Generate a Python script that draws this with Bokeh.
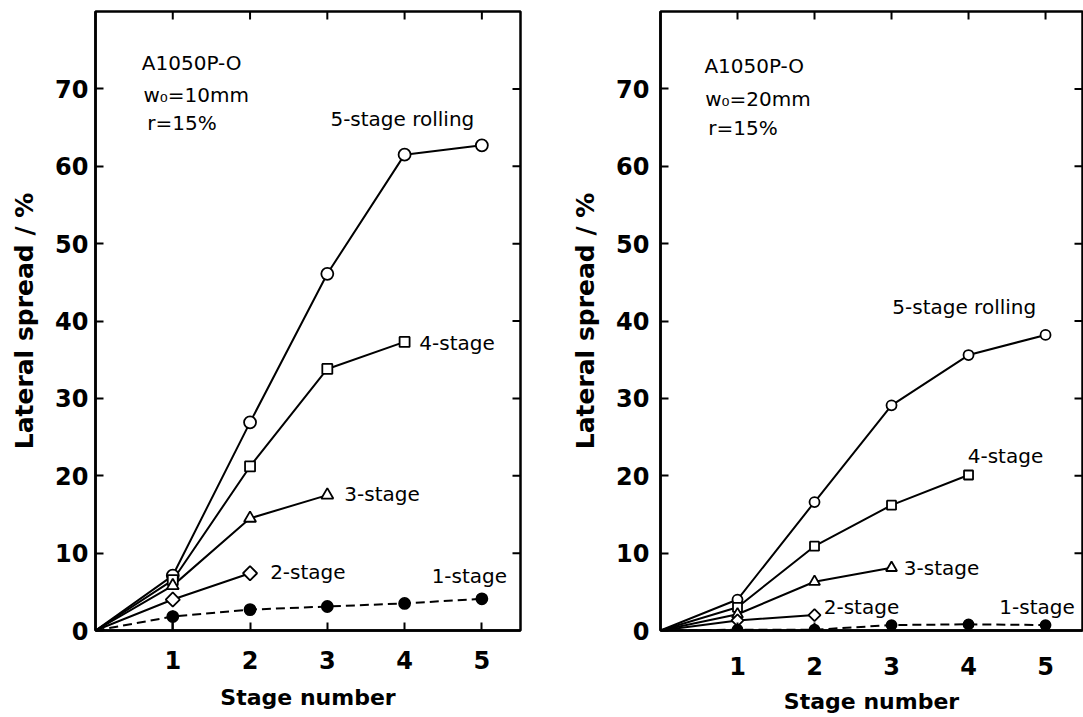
import math
from bokeh.plotting import figure
from bokeh.layouts import row
from bokeh.models import FixedTicker, Range1d
from bokeh.core.properties import value
from bokeh.embed import file_html
from bokeh.resources import INLINE

# ---------------- data ----------------
stages = [0, 1, 2, 3, 4, 5]
x_ticks = [1, 2, 3, 4, 5]
y_ticks = [0, 10, 20, 30, 40, 50, 60, 70]
y_max = 80

# w0 = 10 mm (left panel)
w10_5stage = [0, 7.1, 26.9, 46.1, 61.5, 62.7]
w10_4stage = [0, 6.5, 21.2, 33.8, 37.3]
w10_3stage = [0, 5.8, 14.5, 17.5]
w10_2stage = [0, 4.0, 7.4]
w10_1stage = [0, 1.8, 2.7, 3.1, 3.5, 4.1]
w10_err_x = [1]
w10_err_lo = [0.0]
w10_err_hi = [2.6]

# w0 = 20 mm (right panel)
w20_5stage = [0, 4.0, 16.6, 29.1, 35.6, 38.2]
w20_4stage = [0, 3.0, 10.9, 16.2, 20.1]
w20_3stage = [0, 2.1, 6.3, 8.1]
w20_2stage = [0, 1.3, 2.0]
w20_1stage = [0, 0.1, 0.1, 0.7, 0.8, 0.7]

curve_labels = ["5-stage rolling", "4-stage", "3-stage", "2-stage", "1-stage"]
notes_10 = ["A1050P-O", "w\u2080=10mm", "r=15%"]
notes_20 = ["A1050P-O", "w\u2080=20mm", "r=15%"]
x_title = "Stage number"
y_title = "Lateral spread / %"

# ---------------- layout (positions of annotations) ----------------
lab_x_10 = [3.04, 4.19, 3.22, 2.26, 4.35]
lab_y_10 = [66.1, 37.2, 17.6, 7.6, 7.0]
note_x_10 = [0.6, 0.62, 0.67]
note_y_10 = [73.3, 69.2, 65.6]

lab_x_20 = [3.01, 3.99, 3.16, 2.12, 4.40]
lab_y_20 = [41.8, 22.5, 8.1, 3.0, 3.0]
note_x_20 = [0.57, 0.58, 0.62]
note_y_20 = [72.9, 68.7, 64.9]

FONT = "DejaVu Sans"


def make_panel(width, x_end, mb_left, mb_right, mb_top, mb_bottom,
               series, msizes, notes, note_x, note_y, lab_x, lab_y,
               y_standoff, y_label_standoff, x_standoff, x_label_standoff):
    p = figure(width=width, height=717, x_range=Range1d(0, x_end),
               y_range=Range1d(0, y_max), output_backend="svg",
               toolbar_location=None, tools="",
               min_border_left=mb_left, min_border_right=mb_right,
               min_border_top=mb_top, min_border_bottom=mb_bottom)
    p.background_fill_color = "white"
    p.border_fill_color = "white"
    p.grid.visible = False
    p.outline_line_color = "black"
    p.outline_line_width = 2.5

    for ax in (p.xaxis[0], p.yaxis[0]):
        ax.axis_line_width = 2.5
        ax.axis_line_color = "black"
        ax.major_tick_in = 8
        ax.major_tick_out = 0
        ax.major_tick_line_width = 2
        ax.minor_tick_in = 0
        ax.minor_tick_out = 0
        ax.major_label_text_font = FONT
        ax.major_label_text_font_style = "bold"
        ax.major_label_text_font_size = "24px"
        ax.major_label_text_color = "black"
        ax.axis_label_text_font = FONT
        ax.axis_label_text_font_style = "bold"
        ax.axis_label_text_color = "black"
    p.xaxis[0].axis_label_text_font_size = "22px"
    p.yaxis[0].axis_label_text_font_size = "25px"
    p.xaxis[0].ticker = FixedTicker(ticks=x_ticks)
    p.yaxis[0].ticker = FixedTicker(ticks=y_ticks)
    p.xaxis[0].axis_label = x_title
    p.yaxis[0].axis_label = y_title
    p.xaxis[0].major_label_standoff = x_standoff
    p.xaxis[0].axis_label_standoff = x_label_standoff
    p.yaxis[0].major_label_standoff = y_standoff
    p.yaxis[0].axis_label_standoff = y_label_standoff

    # inward ticks on the top and right frame edges (clipped to the frame)
    p.scatter(x=x_ticks, y=[y_max] * len(x_ticks), marker="dash",
              angle=math.pi / 2, size=16, line_color="black", line_width=2)
    p.scatter(x=[x_end] * (len(y_ticks) - 1), y=y_ticks[1:], marker="dash",
              size=16, line_color="black", line_width=2)

    # lines first
    for (vals, marker, filled, dashed, ang) in series:
        n = len(vals)
        p.line(stages[:n], vals, line_color="black", line_width=2,
               line_dash="9 5" if dashed else "solid")
    # markers on top
    for (vals, marker, filled, dashed, ang), sz in zip(series, msizes):
        n = len(vals)
        p.scatter(stages[1:n], vals[1:], marker=marker, size=sz, angle=ang,
                  fill_color="black" if filled else "white",
                  line_color="black", line_width=1.8)

    p.text(x=lab_x, y=lab_y, text=curve_labels, text_font=value(FONT),
           text_font_size="20px", text_baseline="middle", text_align="left",
           text_color="black")
    p.text(x=note_x, y=note_y, text=notes, text_font=value(FONT),
           text_font_size="20px", text_baseline="middle", text_align="left",
           text_color="black")
    return p


Q = math.pi / 4
series_10 = [(w10_5stage, "circle", False, False, 0),
             (w10_4stage, "square", False, False, 0),
             (w10_3stage, "triangle", False, False, 0),
             (w10_2stage, "square", False, False, Q),
             (w10_1stage, "circle", True, True, 0)]
series_20 = [(w20_5stage, "circle", False, False, 0),
             (w20_4stage, "square", False, False, 0),
             (w20_3stage, "triangle", False, False, 0),
             (w20_2stage, "square", False, False, Q),
             (w20_1stage, "circle", True, True, 0)]

left = make_panel(555, 5.5, 95, 35, 11, 87, series_10, [12, 10, 12, 10, 11],
                  notes_10, note_x_10, note_y_10, lab_x_10, lab_y_10,
                  y_standoff=7, y_label_standoff=13, x_standoff=20, x_label_standoff=13)
left.segment(x0=w10_err_x, y0=w10_err_lo, x1=w10_err_x, y1=w10_err_hi,
             line_color="black", line_width=2)

right = make_panel(528, 5.48, 105, 1, 11, 87, series_20, [10, 9, 11, 8.5, 10],
                   notes_20, note_x_20, note_y_20, lab_x_20, lab_y_20,
                   y_standoff=11, y_label_standoff=13, x_standoff=26, x_label_standoff=11)

layout = row(left, right)
open("out.html", "w").write(file_html(layout, INLINE))
